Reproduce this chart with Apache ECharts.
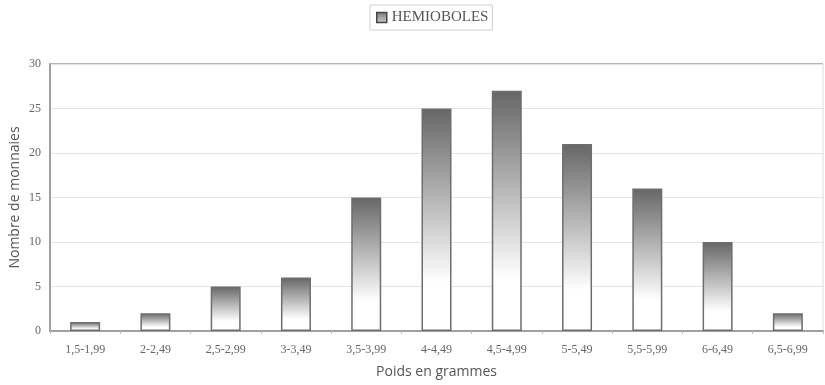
<!DOCTYPE html>
<html>
<head>
<meta charset="utf-8">
<script src="https://cdn.jsdelivr.net/npm/echarts@6/dist/echarts.min.js"></script>
<style>
  html, body { margin: 0; padding: 0; background: #fff; }
  #chart { width: 825px; height: 385px; }
</style>
</head>
<body>
<div id="chart"></div>
<script>
// Weight classes (grams) and coin counts
const categories = ['1,5-1,99', '2-2,49', '2,5-2,99', '3-3,49', '3,5-3,99', '4-4,49',
                    '4,5-4,99', '5-5,49', '5,5-5,99', '6-6,49', '6,5-6,99'];
const hemioboles = [1, 2, 5, 6, 15, 25, 27, 21, 16, 10, 2];
const yTicks = [0, 5, 10, 15, 20, 25, 30];

const serif = '"Liberation Serif", "DejaVu Serif", serif';
const sans = '"Open Sans", "Noto Sans", sans-serif';

const barFill = new echarts.graphic.LinearGradient(0, 0, 0, 1, [
  { offset: 0, color: '#666666' },
  { offset: 0.78, color: '#ffffff' },
  { offset: 1, color: '#ffffff' }
]);
const legendFill = new echarts.graphic.LinearGradient(0, 0, 0, 1, [
  { offset: 0, color: '#777777' },
  { offset: 1, color: '#cccccc' }
]);

const chart = echarts.init(document.getElementById('chart'), null, { renderer: 'canvas' });
chart.setOption({
  animation: false,
  backgroundColor: '#ffffff',
  legend: {
    top: 5,
    left: 370,
    icon: 'rect',
    itemWidth: 10,
    itemHeight: 10,
    itemGap: 4,
    padding: [5, 4, 5, 6],
    borderColor: '#cfcfcf',
    borderWidth: 1,
    textStyle: { fontFamily: serif, fontSize: 15, color: '#555' },
    data: [{ name: 'HEMIOBOLES', itemStyle: { color: legendFill, borderColor: '#444', borderWidth: 1.5 } }]
  },
  grid: {
    left: 50, right: 2, top: 64, bottom: 54,
    outerBoundsMode: 'none',
    containLabel: false,
    show: true, borderColor: '#dddddd', borderWidth: 1
  },
  xAxis: {
    type: 'category',
    data: categories,
    name: 'Poids en grammes',
    nameLocation: 'middle',
    nameGap: 34,
    nameTextStyle: { fontFamily: sans, fontSize: 14, color: '#555' },
    axisLine: { lineStyle: { color: '#a0a0a0', width: 2 } },
    axisTick: { show: true, alignWithLabel: false, length: 3, lineStyle: { color: '#bbb' } },
    axisLabel: { fontFamily: serif, fontSize: 12, color: '#666', margin: 13 }
  },
  yAxis: {
    type: 'value',
    min: yTicks[0],
    max: yTicks[yTicks.length - 1],
    interval: yTicks[1] - yTicks[0],
    name: 'Nombre de monnaies',
    nameLocation: 'middle',
    nameGap: 28,
    nameMoveOverlap: false,
    nameTextStyle: { fontFamily: sans, fontSize: 14, color: '#555' },
    axisLine: { show: true, lineStyle: { color: '#a0a0a0', width: 2 } },
    axisTick: { show: false },
    axisLabel: { fontFamily: serif, fontSize: 12, color: '#666', margin: 9 },
    splitLine: { lineStyle: { color: '#e4e4e4', width: 1 } }
  },
  series: [{
    name: 'HEMIOBOLES',
    type: 'bar',
    data: hemioboles,
    barWidth: 30,
    itemStyle: { color: barFill, borderColor: '#6e6e6e', borderWidth: 1.5 }
  }],
  graphic: [{
    type: 'line',
    shape: { x1: 50, y1: 64, x2: 823, y2: 64 },
    style: { stroke: '#b5b5b5', lineWidth: 2 }
  }]
});
</script>
</body>
</html>
